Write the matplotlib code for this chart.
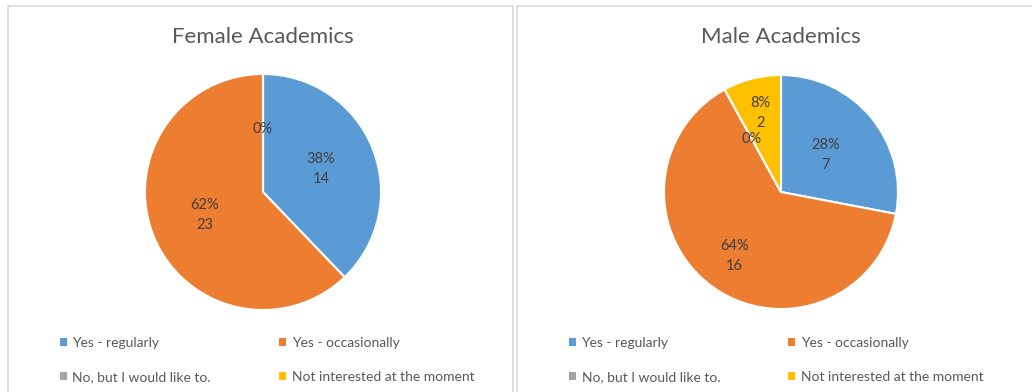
import numpy as np
import matplotlib
matplotlib.use("Agg")
import matplotlib.pyplot as plt
from matplotlib.patches import Rectangle, Patch

plt.rcParams['font.family'] = ['Lato', 'DejaVu Sans']

categories = ["Yes - regularly", "Yes - occasionally",
              "No, but I would like to.", "Not interested at the moment"]
colors = ["#5B9BD5", "#ED7D31", "#A5A5A5", "#FFC000"]

female_counts = [14, 23, 0, 0]
male_counts = [7, 16, 0, 2]

# radial position of each data label (fraction of radius)
female_label_r = [0.53, 0.53, 0.53, 0.53]
male_label_r = [0.49, 0.68, 0.52, 0.70]

W, H = 1032, 392
fig = plt.figure(figsize=(W / 100, H / 100), dpi=100)


def px_rect(x0, y0, x1, y1):
    # pixel box (top-left origin) -> figure fraction
    return [x0 / W, 1 - y1 / H, (x1 - x0) / W, (y1 - y0) / H]


# panel frames
for x0, x1 in [(8, 513), (517, 1040)]:
    fig.patches.append(Rectangle((x0 / W, -0.05), (x1 - x0) / W, 1 - 6 / H + 0.05,
                                 transform=fig.transFigure, fill=False,
                                 edgecolor="#D9D9D9", linewidth=1.2))


def draw_pie(cx, cy, r, counts, label_r, title, leg_x):
    ax = fig.add_axes(px_rect(cx - r, cy - r, cx + r, cy + r))
    ax.pie(counts, colors=colors, startangle=90, counterclock=False,
           radius=1.0, wedgeprops=dict(edgecolor="white", linewidth=1.5))
    ax.set_xlim(-1, 1)
    ax.set_ylim(-1, 1)
    ax.set_aspect("equal")
    ax.axis("off")

    total = sum(counts)
    start = 90.0
    placed = set()
    for n, d in zip(counts, label_r):
        sweep = 360.0 * n / total
        mid = np.deg2rad(start - sweep / 2)
        start -= sweep
        pct = round(100 * n / total)
        txt = f"{pct}%\n{n}" if n else f"{pct}%"
        x, y = d * np.cos(mid), d * np.sin(mid)
        key = (round(x, 3), round(y, 3), txt)
        if key in placed:
            continue
        placed.add(key)
        ax.text(x, y, txt, ha="center", va="center",
                fontsize=10.5, color="#404040", linespacing=1.55)

    fig.text(cx / W, 1 - 37 / H, title, ha="center", va="center",
             fontsize=16, color="#595959")

    order = [0, 2, 1, 3]
    handles = [Patch(facecolor=colors[i], edgecolor="none") for i in order]
    labels = [categories[i] for i in order]
    fig.legend(handles, labels, ncol=2, loc="upper left",
               bbox_to_anchor=(leg_x / W, 1 - 337 / H),
               frameon=False, fontsize=10, labelcolor="#595959",
               handlelength=0.5, handleheight=0.5, handletextpad=0.4,
               columnspacing=4.9, labelspacing=1.6, borderpad=0, borderaxespad=0)


draw_pie(263, 192, 118, female_counts, female_label_r, "Female Academics", 60)
draw_pie(781, 192, 117, male_counts, male_label_r, "Male Academics", 569)

fig.savefig("out.png", dpi=100, facecolor="white")
